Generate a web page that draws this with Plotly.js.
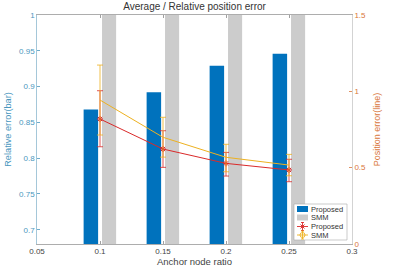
<!DOCTYPE html>
<html>
<head>
<meta charset="utf-8">
<script src="https://cdn.plot.ly/plotly-3.0.1.min.js"></script>
<style>
  html, body { margin: 0; padding: 0; background: #fff; }
  #chart { width: 397px; height: 272px; }
</style>
</head>
<body>
<div id="chart"></div>
<script>
// Anchor node ratios
const ratios = [0.1, 0.15, 0.2, 0.25];

// Relative error (bars, left axis)
const relProposed = [0.868, 0.892, 0.929, 0.946];
const relSMM = [1.08, 1.06, 1.05, 1.04];

// Position error (lines, right axis) with error bar extents
const posProposed = [0.819, 0.622, 0.528, 0.485];
const posProposedUp = [0.185, 0.12, 0.072, 0.07];
const posProposedDown = [0.182, 0.12, 0.083, 0.077];
const posSMM = [0.943, 0.699, 0.568, 0.517];
const posSMMUp = [0.229, 0.131, 0.085, 0.07];
const posSMMDown = [0.229, 0.13, 0.095, 0.07];

// Tick labels
const xTicks = [0.05, 0.1, 0.15, 0.2, 0.25, 0.3];
const xTickText = ['0.05', '0.1', '0.15', '0.2', '0.25', '0.3'];
const yLeftTicks = [0.7, 0.75, 0.8, 0.85, 0.9, 0.95, 1];
const yLeftText = ['0.7', '0.75', '0.8', '0.85', '0.9', '0.95', '1'];
const yRightTicks = [0, 0.5, 1, 1.5];
const yRightText = ['0', '0.5', '1', '1.5'];

// Legend entries
const legendNames = ['Proposed', 'SMM', 'Proposed', 'SMM'];

const BLUE = '#0072BD';
const GREY = '#CCCCCC';
const RED = '#DA2A2A';
const YELLOW = '#EDB120';
const LEFTC = '#4A97BE';
const RIGHTC = '#D9763A';
const FONT = 'Liberation Sans, Arial, sans-serif';

const W = 397, H = 272;
const M = { l: 37, r: 45, t: 15, b: 28 };
const PW = W - M.l - M.r, PH = H - M.t - M.b;
// pixel -> paper coordinates for the boxed legend
const px = v => (v - M.l) / PW;
const py = v => (H - M.b - v) / PH;

const traces = [
  {
    type: 'bar', name: legendNames[0], x: ratios, y: relProposed,
    width: 0.0115, offset: -0.013,
    marker: { color: BLUE, line: { width: 0 } },
    yaxis: 'y'
  },
  {
    type: 'bar', name: legendNames[1], x: ratios, y: relSMM,
    width: 0.0112, offset: 0.0016,
    marker: { color: GREY, line: { width: 0 } },
    yaxis: 'y'
  },
  {
    type: 'scatter', mode: 'lines+markers', name: legendNames[2],
    x: ratios, y: posProposed, yaxis: 'y2',
    line: { color: RED, width: 1 },
    marker: { color: RED, size: 5, symbol: 'asterisk', line: { color: RED, width: 1 } },
    error_y: { type: 'data', symmetric: false, array: posProposedUp, arrayminus: posProposedDown,
               color: RED, thickness: 0.8, width: 3 }
  },
  {
    type: 'scatter', mode: 'lines+markers', name: legendNames[3],
    x: ratios, y: posSMM, yaxis: 'y2',
    line: { color: YELLOW, width: 1 },
    marker: { color: 'rgba(0,0,0,0)', size: 6, symbol: 'circle-open', line: { color: YELLOW, width: 1 } },
    error_y: { type: 'data', symmetric: false, array: posSMMUp, arrayminus: posSMMDown,
               color: YELLOW, thickness: 0.8, width: 3 }
  }
];

// Compact boxed legend in the lower-right corner of the axes
const box = { x0: 294, x1: 347, y0: 204, y1: 240 };
const rows = [209, 217.5, 226.5, 235];
const sx0 = 297, sx1 = 308, sxc = 302.5, tx = 309;
const shapes = [
  { type: 'rect', xref: 'paper', yref: 'paper', layer: 'above',
    x0: px(box.x0), x1: px(box.x1), y0: py(box.y1), y1: py(box.y0),
    fillcolor: '#fff', line: { color: '#AAA', width: 0.6 } },
  { type: 'rect', xref: 'paper', yref: 'paper', layer: 'above',
    x0: px(sx0), x1: px(sx1), y0: py(rows[0] + 3), y1: py(rows[0] - 3),
    fillcolor: BLUE, line: { width: 0 } },
  { type: 'rect', xref: 'paper', yref: 'paper', layer: 'above',
    x0: px(sx0), x1: px(sx1), y0: py(rows[1] + 3), y1: py(rows[1] - 3),
    fillcolor: GREY, line: { width: 0 } }
];
[[rows[2], RED], [rows[3], YELLOW]].forEach(([r, c]) => {
  const ln = { color: c, width: 0.9 };
  shapes.push({ type: 'line', xref: 'paper', yref: 'paper', layer: 'above',
    x0: px(sx0), x1: px(sx1), y0: py(r), y1: py(r), line: ln });
  shapes.push({ type: 'line', xref: 'paper', yref: 'paper', layer: 'above',
    x0: px(sxc), x1: px(sxc), y0: py(r - 4), y1: py(r + 4), line: ln });
  shapes.push({ type: 'line', xref: 'paper', yref: 'paper', layer: 'above',
    x0: px(sxc - 1.5), x1: px(sxc + 1.5), y0: py(r - 4), y1: py(r - 4), line: ln });
  shapes.push({ type: 'line', xref: 'paper', yref: 'paper', layer: 'above',
    x0: px(sxc - 1.5), x1: px(sxc + 1.5), y0: py(r + 4), y1: py(r + 4), line: ln });
});
// marker glyphs in the legend
shapes.push({ type: 'line', xref: 'paper', yref: 'paper', layer: 'above',
  x0: px(sxc - 2), x1: px(sxc + 2), y0: py(rows[2] - 2), y1: py(rows[2] + 2), line: { color: RED, width: 1 } });
shapes.push({ type: 'line', xref: 'paper', yref: 'paper', layer: 'above',
  x0: px(sxc - 2), x1: px(sxc + 2), y0: py(rows[2] + 2), y1: py(rows[2] - 2), line: { color: RED, width: 1 } });
shapes.push({ type: 'circle', xref: 'paper', yref: 'paper', layer: 'above',
  x0: px(sxc - 2.5), x1: px(sxc + 2.5), y0: py(rows[3] + 2.5), y1: py(rows[3] - 2.5),
  line: { color: YELLOW, width: 0.9 }, fillcolor: 'rgba(0,0,0,0)' });

const annotations = legendNames.map((n, i) => ({
  xref: 'paper', yref: 'paper', x: px(tx), y: py(rows[i]),
  xanchor: 'left', yanchor: 'middle', showarrow: false,
  text: n, font: { family: FONT, size: 7.5, color: '#333' }
}));

const layout = {
  width: W, height: H,
  margin: { l: M.l, r: M.r, t: M.t, b: M.b, pad: 0 },
  paper_bgcolor: '#fff', plot_bgcolor: '#fff',
  font: { family: FONT, size: 8, color: '#333' },
  barmode: 'overlay',
  showlegend: false,
  title: {
    text: 'Average / Relative position error',
    font: { family: FONT, size: 10, color: '#333' },
    x: 0.49, xanchor: 'center', y: 0.975, yanchor: 'middle'
  },
  xaxis: {
    range: [0.05, 0.3],
    tickvals: xTicks, ticktext: xTickText,
    ticks: 'inside', ticklen: 3, tickcolor: '#888', tickwidth: 0.8,
    showline: true, linecolor: '#999', linewidth: 0.8, mirror: 'ticks',
    showgrid: false, zeroline: false,
    tickfont: { family: FONT, size: 8, color: '#444' },
    title: { text: 'Anchor node ratio', font: { family: FONT, size: 9.5, color: '#444' }, standoff: 2 }
  },
  yaxis: {
    range: [0.68, 1],
    tickvals: yLeftTicks, ticktext: yLeftText,
    ticks: 'inside', ticklen: 3, tickcolor: LEFTC, tickwidth: 0.8,
    showline: true, linecolor: '#8FB9CF', linewidth: 0.8,
    showgrid: false, zeroline: false,
    tickfont: { family: FONT, size: 8, color: LEFTC },
    title: { text: 'Relative error(bar)', font: { family: FONT, size: 9.2, color: LEFTC }, standoff: 5 }
  },
  yaxis2: {
    range: [0, 1.5],
    overlaying: 'y', side: 'right',
    tickvals: yRightTicks, ticktext: yRightText,
    ticks: 'inside', ticklen: 3, tickcolor: RIGHTC, tickwidth: 0.8,
    showline: true, linecolor: '#C8C8C8', linewidth: 0.8,
    showgrid: false, zeroline: false,
    tickfont: { family: FONT, size: 8, color: RIGHTC },
    title: { text: 'Position error(line)', font: { family: FONT, size: 9, color: RIGHTC }, standoff: 8 }
  },
  shapes: shapes,
  annotations: annotations
};

Plotly.newPlot('chart', traces, layout, { staticPlot: true, displayModeBar: false });
</script>
</body>
</html>
